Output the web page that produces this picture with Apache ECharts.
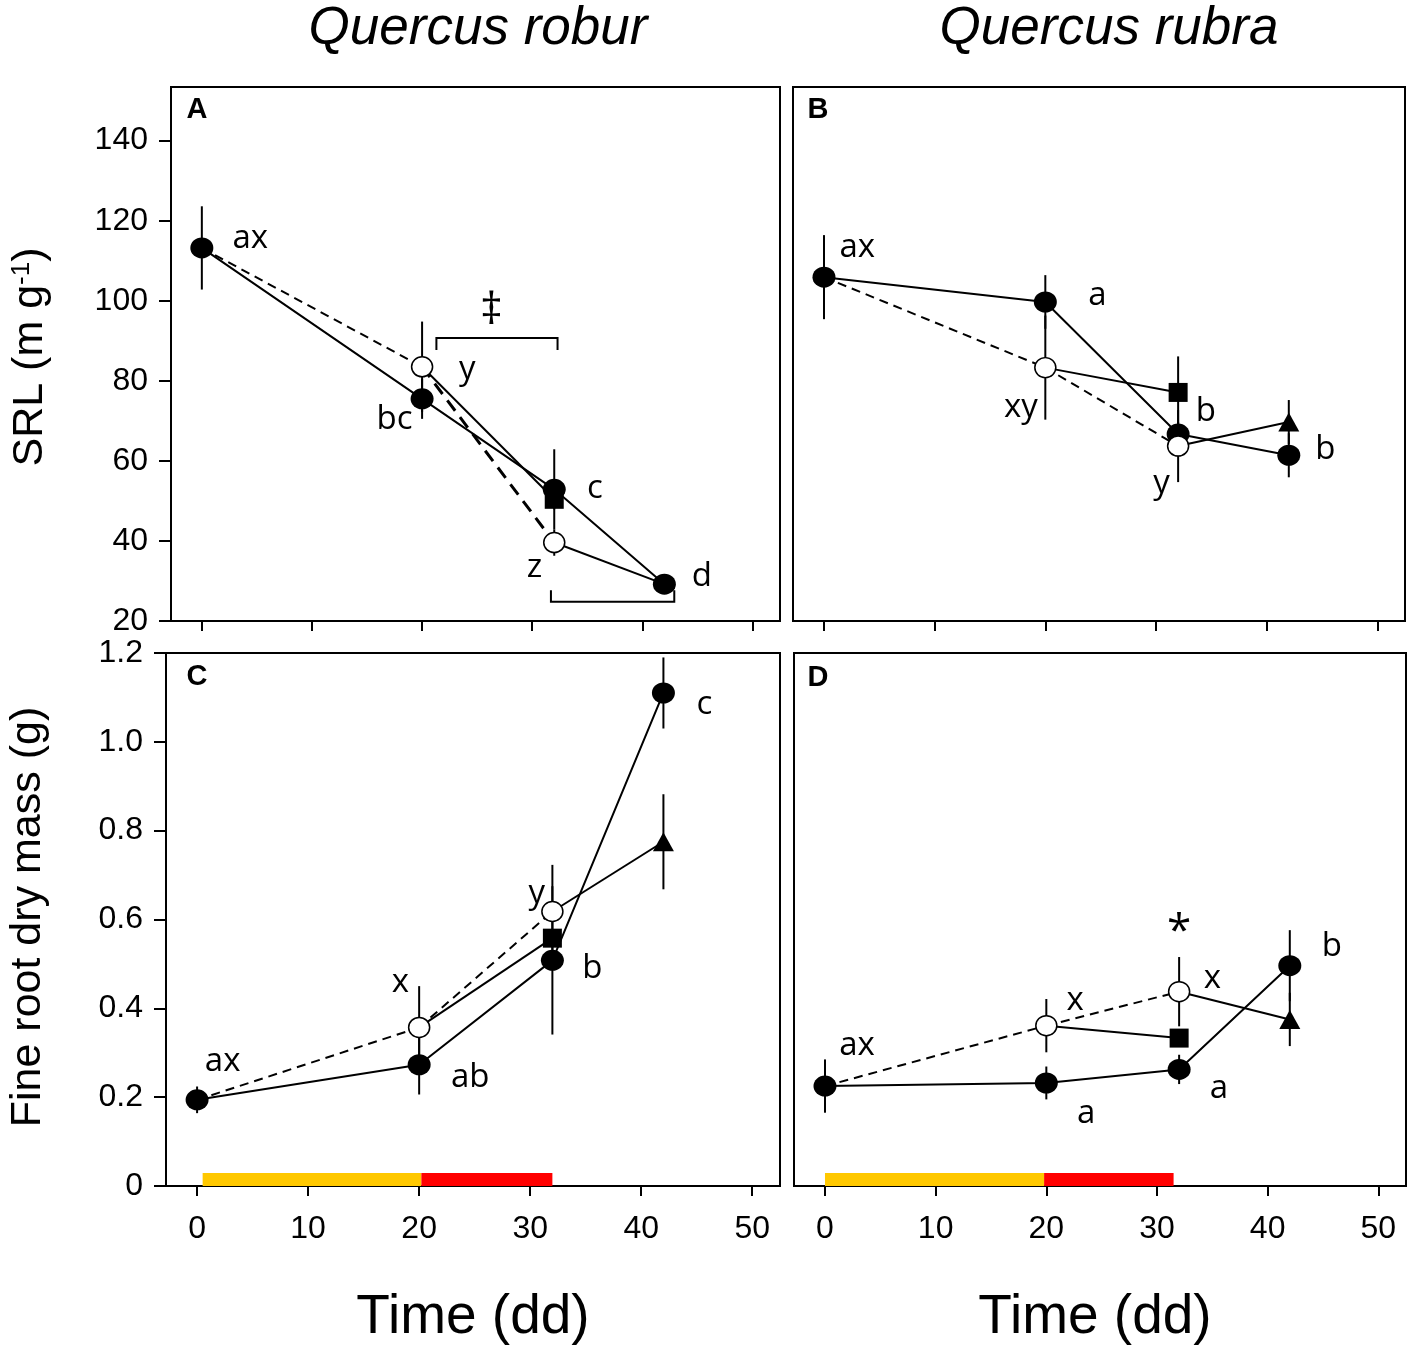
<!DOCTYPE html>
<html>
<head>
<meta charset="utf-8">
<script src="https://cdn.jsdelivr.net/npm/echarts@6/dist/echarts.min.js"></script>
<style>
html, body { margin: 0; padding: 0; background: #fff; }
#chart { width: 1418px; height: 1354px; }
</style>
</head>
<body>
<div id="chart"></div>
<script>
// sampling days (dd)
var days = [0, 20, 32, 42];
var xTicks = [0, 10, 20, 30, 40, 50];
var srlTicks = [20, 40, 60, 80, 100, 120, 140];
var massTicks = [0, 0.2, 0.4, 0.6, 0.8, 1.0, 1.2];

// A - SRL, Quercus robur
var ctrlA = [113.2, 75.5, 52.9, 29.2];
var ctrlErrA = [10.4, 5, 10, 1.2];
var dryA = [83.5, 39.6];          // day 20, 32
var dryErrA = [11.3, 3.3];
var sqA = 50.4, sqErrA = 2.5;     // rewatered at day 20, sampled day 32
var triA = 29.2, triErrA = 0;     // rewatered at day 32, sampled day 42
var lettersA = [[4.4, 115.5, 'ax'], [24.1, 82.7, 'y'], [17.5, 70.2, 'bc'], [35.7, 53.2, 'c'], [30.2, 33.4, 'z'], [45.4, 31, 'd']];
var marksA = [[26.3, 97.2, '‡']];
var bracketsA = [[21.3, 32.3, 90.7, 87.7], [31.7, 42.9, 24.8, 27.7]];

// B - SRL, Quercus rubra
var ctrlB = [105.9, 99.7, 66.7, 61.4];
var ctrlErrB = [10.5, 6.7, 3, 5.5];
var dryB = [83.3, 63.7];
var dryErrB = [13, 9];
var sqB = 77.1, sqErrB = 9;
var triB = 69.7, triErrB = 5.5;
var lettersB = [[3.0, 113.4, 'ax'], [24.7, 101.2, 'a'], [17.8, 73.2, 'xy'], [34.5, 72.2, 'b'], [30.5, 54.4, 'y'], [45.3, 62.7, 'b']];

// C - fine root dry mass, Quercus robur
var ctrlC = [0.194, 0.273, 0.508, 1.11];
var ctrlErrC = [0.03, 0.067, 0.167, 0.08];
var dryC = [0.357, 0.618];
var dryErrC = [0.093, 0.105];
var sqC = 0.558, sqErrC = 0.02;
var triC = 0.775, triErrC = 0.107;
var lettersC = [[2.3, 0.279, 'ax'], [18.3, 0.457, 'x'], [24.6, 0.243, 'ab'], [30.6, 0.659, 'y'], [35.6, 0.49, 'b'], [45.7, 1.083, 'c']];
var periodsC = [[0.5, 20.2], [20.2, 32]];

// D - fine root dry mass, Quercus rubra
var ctrlD = [0.225, 0.232, 0.2625, 0.496];
var ctrlErrD = [0.06, 0.037, 0.033, 0.08];
var dryD = [0.361, 0.4375];
var dryErrD = [0.06, 0.078];
var sqD = 0.333, sqErrD = 0.02;
var triD = 0.375, triErrD = 0.06;
var lettersD = [[2.9, 0.317, 'ax'], [22.6, 0.418, 'x'], [23.6, 0.164, 'a'], [35.0, 0.468, 'x'], [35.6, 0.22, 'a'], [45.8, 0.54, 'b']];
var marksD = [[32, 0.57, '*']];
var periodsD = [[0, 19.8], [19.8, 31.5]];

var periodColors = ['#FFC800', '#FF0000'];
var FONT = '"Liberation Sans", Arial, sans-serif';
var LFONT = '"Open Sans", "Noto Sans", sans-serif';

var chart = echarts.init(document.getElementById('chart'));

function errRender(params, api) {
    var x = api.value(0), y = api.value(1), e = api.value(2);
    var p1 = api.coord([x, y + e]);
    var p2 = api.coord([x, y - e]);
    return {
        type: 'line',
        shape: {x1: p1[0], y1: p1[1], x2: p2[0], y2: p2[1]},
        style: {stroke: '#000', lineWidth: 2}
    };
}

function bracketRender(params, api) {
    var x1 = api.value(0), x2 = api.value(1), y = api.value(2), yt = api.value(3);
    return {
        type: 'polyline',
        shape: {points: [api.coord([x1, yt]), api.coord([x1, y]), api.coord([x2, y]), api.coord([x2, yt])]},
        style: {stroke: '#000', lineWidth: 2, fill: null}
    };
}

function periodRender(params, api) {
    var a = api.coord([api.value(0), 0]);
    var b = api.coord([api.value(1), 0]);
    return {
        type: 'rect',
        shape: {x: a[0], y: a[1] - 13, width: b[0] - a[0], height: 13},
        style: {fill: periodColors[params.dataIndex]}
    };
}

function lineSeries(k, data, dashed, width) {
    return {
        type: 'line', xAxisIndex: k, yAxisIndex: k, data: data,
        showSymbol: false, symbol: 'none', z: 2, silent: true,
        lineStyle: {color: '#000', width: width || 2, type: dashed ? (width > 2 ? [13, 8] : [9, 6]) : 'solid'}
    };
}

function markerSeries(k, data, symbol, size, filled) {
    return {
        type: 'scatter', xAxisIndex: k, yAxisIndex: k, data: data,
        symbol: symbol, symbolSize: size, z: 3, silent: true,
        itemStyle: filled ? {color: '#000', opacity: 1} : {color: '#fff', borderColor: '#000', borderWidth: 1.5, opacity: 1}
    };
}

function textSeries(k, data, size) {
    return {
        type: 'scatter', xAxisIndex: k, yAxisIndex: k, data: data,
        symbolSize: 0, z: 4, silent: true,
        itemStyle: {opacity: 1},
        label: {
            show: true, position: 'inside', color: '#000',
            fontFamily: LFONT, fontSize: size,
            formatter: function (p) { return p.data[2]; }
        }
    };
}

function panel(k, p) {
    var s = [];
    var err = days.map(function (d, i) { return [d, p.ctrl[i], p.ctrlErr[i]]; });
    err.push([20, p.dry[0], p.dryErr[0]], [32, p.dry[1], p.dryErr[1]], [32, p.sq, p.sqErr], [42, p.tri, p.triErr]);
    s.push({type: 'custom', xAxisIndex: k, yAxisIndex: k, renderItem: errRender, data: err, encode: {x: 0, y: 1}, z: 1, silent: true});
    if (p.periods) {
        s.push({type: 'custom', xAxisIndex: k, yAxisIndex: k, renderItem: periodRender, data: p.periods, encode: {x: [0, 1]}, z: 1, silent: true});
    }
    if (p.brackets) {
        s.push({type: 'custom', xAxisIndex: k, yAxisIndex: k, renderItem: bracketRender, data: p.brackets, encode: {x: [0, 1], y: [2, 3]}, z: 1, silent: true});
    }
    var ctrlPts = days.map(function (d, i) { return [d, p.ctrl[i]]; });
    var dryPts = [[20, p.dry[0]], [32, p.dry[1]]];
    s.push(lineSeries(k, ctrlPts, false));
    s.push(lineSeries(k, [[0, p.ctrl[0]], dryPts[0]], true));
    s.push(lineSeries(k, dryPts, true, p.thickDash ? 3 : 2));
    s.push(lineSeries(k, [[20, p.dry[0]], [32, p.sq]], false));
    s.push(lineSeries(k, [[32, p.dry[1]], [42, p.tri]], false));
    if (p.showTri) s.push(markerSeries(k, [[42, p.tri]], 'triangle', [21, 19], true));
    s.push(markerSeries(k, [[32, p.sq]], 'rect', [19, 19], true));
    s.push(markerSeries(k, ctrlPts, 'circle', [23, 21], true));
    s.push(markerSeries(k, dryPts, 'circle', [21, 20], false));
    s.push(textSeries(k, p.letters, 33));
    if (p.marks) s.push(textSeries(k, p.marks, 44));
    return s;
}

var series = [].concat(
    panel(0, {ctrl: ctrlA, ctrlErr: ctrlErrA, dry: dryA, dryErr: dryErrA, sq: sqA, sqErr: sqErrA, tri: triA, triErr: triErrA, letters: lettersA, marks: marksA, brackets: bracketsA, showTri: false, thickDash: true}),
    panel(1, {ctrl: ctrlB, ctrlErr: ctrlErrB, dry: dryB, dryErr: dryErrB, sq: sqB, sqErr: sqErrB, tri: triB, triErr: triErrB, letters: lettersB, showTri: true}),
    panel(2, {ctrl: ctrlC, ctrlErr: ctrlErrC, dry: dryC, dryErr: dryErrC, sq: sqC, sqErr: sqErrC, tri: triC, triErr: triErrC, letters: lettersC, periods: periodsC, showTri: true}),
    panel(3, {ctrl: ctrlD, ctrlErr: ctrlErrD, dry: dryD, dryErr: dryErrD, sq: sqD, sqErr: sqErrD, tri: triD, triErr: triErrD, letters: lettersD, marks: marksD, periods: periodsD, showTri: true})
);

var grids = [
    {left: 171, top: 87, width: 609, height: 534},
    {left: 793, top: 87, width: 612, height: 534},
    {left: 166, top: 653, width: 614, height: 533},
    {left: 794, top: 653, width: 612, height: 533}
];
grids.forEach(function (g) { g.show = true; g.borderColor = '#000'; g.borderWidth = 2; g.backgroundColor = 'transparent'; });

function xAxis(k, labels) {
    return {
        type: 'value', gridIndex: k, min: -2.8, max: 52.5,
        splitLine: {show: false},
        axisLine: {show: true, onZero: false, lineStyle: {color: '#000', width: 2}},
        axisTick: {show: true, inside: false, length: 10, customValues: xTicks, lineStyle: {color: '#000', width: 2}},
        axisLabel: {show: labels, customValues: xTicks, margin: 27, color: '#000', fontSize: 32, fontFamily: FONT}
    };
}

function yAxis(k, min, max, ticks, labels, fmt) {
    return {
        type: 'value', gridIndex: k, min: min, max: max,
        splitLine: {show: false},
        axisLine: {show: true, onZero: false, lineStyle: {color: '#000', width: 2}},
        axisTick: {show: labels, inside: false, length: 12, customValues: ticks, lineStyle: {color: '#000', width: 2}},
        axisLabel: {show: labels, customValues: ticks, margin: 23, color: '#000', fontSize: 32, fontFamily: FONT, formatter: fmt}
    };
}

function massFmt(v) { return v === 0 ? '0' : v.toFixed(1); }

function txt(x, y, text, size, extra) {
    var style = {text: text, fontSize: size, fontFamily: FONT, fill: '#000', align: 'center', verticalAlign: 'middle'};
    for (var key in (extra || {})) style[key] = extra[key];
    return {type: 'text', x: x, y: y, style: style, z: 10, silent: true};
}

var graphics = [
    txt(478, 29, 'Quercus robur', 53, {fontStyle: 'italic'}),
    txt(1109, 29, 'Quercus rubra', 53, {fontStyle: 'italic'}),
    txt(473, 1318, 'Time (dd)', 55),
    txt(1095, 1318, 'Time (dd)', 55),
    txt(197, 110, 'A', 29, {fontWeight: 'bold'}),
    txt(818, 110, 'B', 29, {fontWeight: 'bold'}),
    txt(197, 677, 'C', 29, {fontWeight: 'bold'}),
    txt(818, 678, 'D', 29, {fontWeight: 'bold'})
];
var ySrl = txt(30, 357, 'SRL (m g{sup|-1})', 43, {rich: {sup: {fontSize: 26, fontFamily: FONT, verticalAlign: 'top', fill: '#000'}}});
ySrl.rotation = Math.PI / 2;
var yMass = txt(28, 917, 'Fine root dry mass (g)', 43);
yMass.rotation = Math.PI / 2;
graphics.push(ySrl, yMass);

chart.setOption({
    animation: false,
    backgroundColor: '#fff',
    grid: grids,
    xAxis: [xAxis(0, false), xAxis(1, false), xAxis(2, true), xAxis(3, true)],
    yAxis: [
        yAxis(0, 20, 153.4, srlTicks, true),
        yAxis(1, 20, 153.4, srlTicks, false),
        yAxis(2, 0, 1.2, massTicks, true, massFmt),
        yAxis(3, 0, 1.2, massTicks, false, massFmt)
    ],
    graphic: graphics,
    series: series
});
</script>
</body>
</html>
